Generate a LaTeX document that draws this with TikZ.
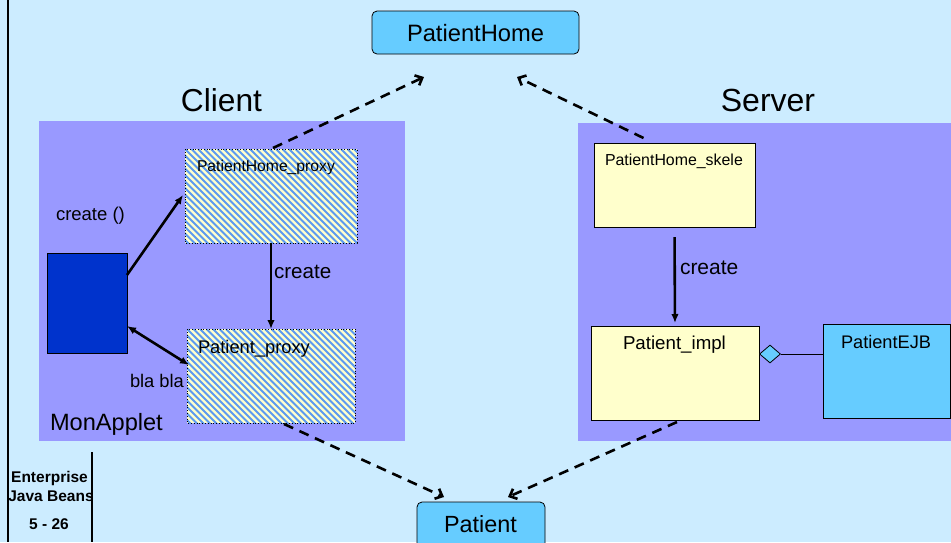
\documentclass[tikz,border=0pt]{standalone}
\usepackage{fontspec}
\setmainfont{Liberation Sans}
\usetikzlibrary{arrows.meta,shapes.geometric,calc}
\definecolor{bgblue}{HTML}{CCECFF}
\definecolor{panel}{HTML}{9999FF}
\definecolor{lyellow}{HTML}{FFFFCC}
\definecolor{cyanbox}{HTML}{66CCFF}
\definecolor{darkblue}{HTML}{0033CC}
\definecolor{hatchblue}{HTML}{5C9AF0}
\newcommand{\fsz}[1]{\fontsize{#1}{#1}\selectfont}
\newcommand{\stripebox}[1]{%
  \begin{scope}
    \clip (#1.north west) rectangle (#1.south east);
    \foreach \i in {-117,-110.5,...,190}
      \draw[stripe] ($(#1.north west)+(\i,0)$) -- ++(110,110);
  \end{scope}
  \draw[hatchborder] (#1.north west) rectangle (#1.south east);}
\begin{document}
\begin{tikzpicture}[x=1pt,y=-1pt,
  txt/.style={inner sep=0pt, outer sep=0pt, anchor=base west},
  ctxt/.style={inner sep=0pt, outer sep=0pt, anchor=base},
  boxbase/.style={inner sep=0pt, outer sep=0pt, anchor=north west},
  panelbox/.style={boxbase, fill=panel, draw=none},
  hatchbox/.style={boxbase, fill=lyellow},
  stripe/.style={hatchblue, line width=2pt},
  hatchborder/.style={draw=black, dotted, line width=0.8pt},
  yellowbox/.style={boxbase, draw=black, line width=0.8pt, fill=lyellow},
  cyanrect/.style={boxbase, draw=black, line width=0.8pt, fill=cyanbox},
  roundbox/.style={boxbase, draw=black, line width=0.8pt, fill=cyanbox, rounded corners=5pt},
  solidarrow/.style={line width=2.6pt, -{Latex[length=9pt,width=7.5pt]}},
  dblarrow/.style={line width=2.6pt, {Latex[length=9pt,width=7.5pt]}-{Latex[length=9pt,width=7.5pt]}},
  dasharrow/.style={line width=2.6pt, dash pattern=on 10pt off 7pt, -{Straight Barb[length=6pt,width=11pt]}},
]
\clip (0,0) rectangle (951,542);
\fill[bgblue] (0,0) rectangle (951,542);

% panels
\node[panelbox, minimum width=366pt, minimum height=320pt] (clientpanel) at (39,121) {};
\node[panelbox, minimum width=373pt, minimum height=318pt] (serverpanel) at (578,123) {};

% titles
\node[ctxt] (clientlbl) at (221.5,111) {\fsz{31.7}Client};
\node[ctxt] (serverlbl) at (768,111) {\fsz{32}Server};

% top / bottom interface boxes
\node[roundbox, minimum width=207pt, minimum height=43pt] (ph) at (372,11) {};
\node[ctxt] (phlbl) at (475.5,41.5) {\fsz{23.7}PatientHome};
\node[roundbox, minimum width=128pt, minimum height=60pt] (pat) at (417,502) {};
\node[ctxt] (patlbl) at (480.5,532.5) {\fsz{23.4}Patient};

% client side
\node[boxbase, draw=black, line width=0.6pt, fill=darkblue, minimum width=80pt, minimum height=100pt] (applet) at (47,253) {};
\node[hatchbox, minimum width=172pt, minimum height=94pt] (phproxy) at (185,149) {};
\stripebox{phproxy}
\node[txt] (phproxylbl) at (197,171.5) {\fsz{15.7}PatientHome\_proxy};
\node[hatchbox, minimum width=168pt, minimum height=94pt] (pproxy) at (187,329) {};
\stripebox{pproxy}
\node[txt] (pproxylbl) at (198,353) {\fsz{18.3}Patient\_proxy};
\node[txt] (createcall) at (56,220) {\fsz{18.5}create ()};
\node[txt] (createc) at (274,278) {\fsz{20.6}create};
\node[txt] (blabla) at (130,387) {\fsz{18.3}bla bla};
\node[txt] (monapplet) at (50,430) {\fsz{23.6}MonApplet};

% server side
\node[yellowbox, minimum width=161pt, minimum height=84pt] (skele) at (594,143) {};
\node[txt] (skelelbl) at (605,165) {\fsz{15.9}PatientHome\_skele};
\node[yellowbox, minimum width=168pt, minimum height=94pt] (impl) at (591,326) {};
\node[txt] (impllbl) at (623,349) {\fsz{18.7}Patient\_impl};
\node[cyanrect, minimum width=127pt, minimum height=94pt] (ejb) at (823,324) {};
\node[txt] (ejblbl) at (841,348) {\fsz{18.2}PatientEJB};
\node[txt] (creates) at (680,274) {\fsz{21}create};
\node[diamond, draw=black, line width=0.8pt, fill=cyanbox, inner sep=0pt, minimum width=21pt, minimum height=18pt] (dia) at (770,354) {};

% solid connectors
\draw[solidarrow] ($(applet.north east)+(0,22)$) -- ($(phproxy.west)+(-2,-1)$);
\draw[solidarrow] (phproxy.south) -- (pproxy.north);
\draw[dblarrow] ($(applet.north east)+(0,73)$) -- ($(pproxy.north west)+(2,36)$);
\draw[solidarrow, shorten <=10pt, shorten >=3pt] (skele.south) -- (impl.north);
\draw[line width=1pt] (dia.east) -- (dia.east -| ejb.west);

% dashed connectors
\coordinate (phinL) at (424,77);
\coordinate (phinR) at (517,77);
\coordinate (patinL) at (444,497);
\coordinate (patinR) at (508,497);
\draw[dasharrow] ($(phproxy.north)+(2,-1)$) -- (phinL);
\draw[dasharrow] ($(skele.north)+(-31,-5)$) -- (phinR);
\draw[dasharrow] ($(pproxy.south)+(13,1)$) -- (patinL);
\draw[dasharrow] ($(impl.south)+(2,2)$) -- (patinR);

% footer
\node[ctxt] (ftr1) at (49.5,482) {\fsz{15.5}\bfseries Enterprise};
\node[ctxt] (ftr2) at (51,501) {\fsz{15.5}\bfseries Java Beans};
\node[ctxt] (ftr3) at (49,529) {\fsz{15.5}\bfseries 5 - 26};
\draw[line width=1.2pt] (92,452) -- (92,542);
\draw[line width=2.4pt] (8,0) -- (8,542);
\end{tikzpicture}
\end{document}
